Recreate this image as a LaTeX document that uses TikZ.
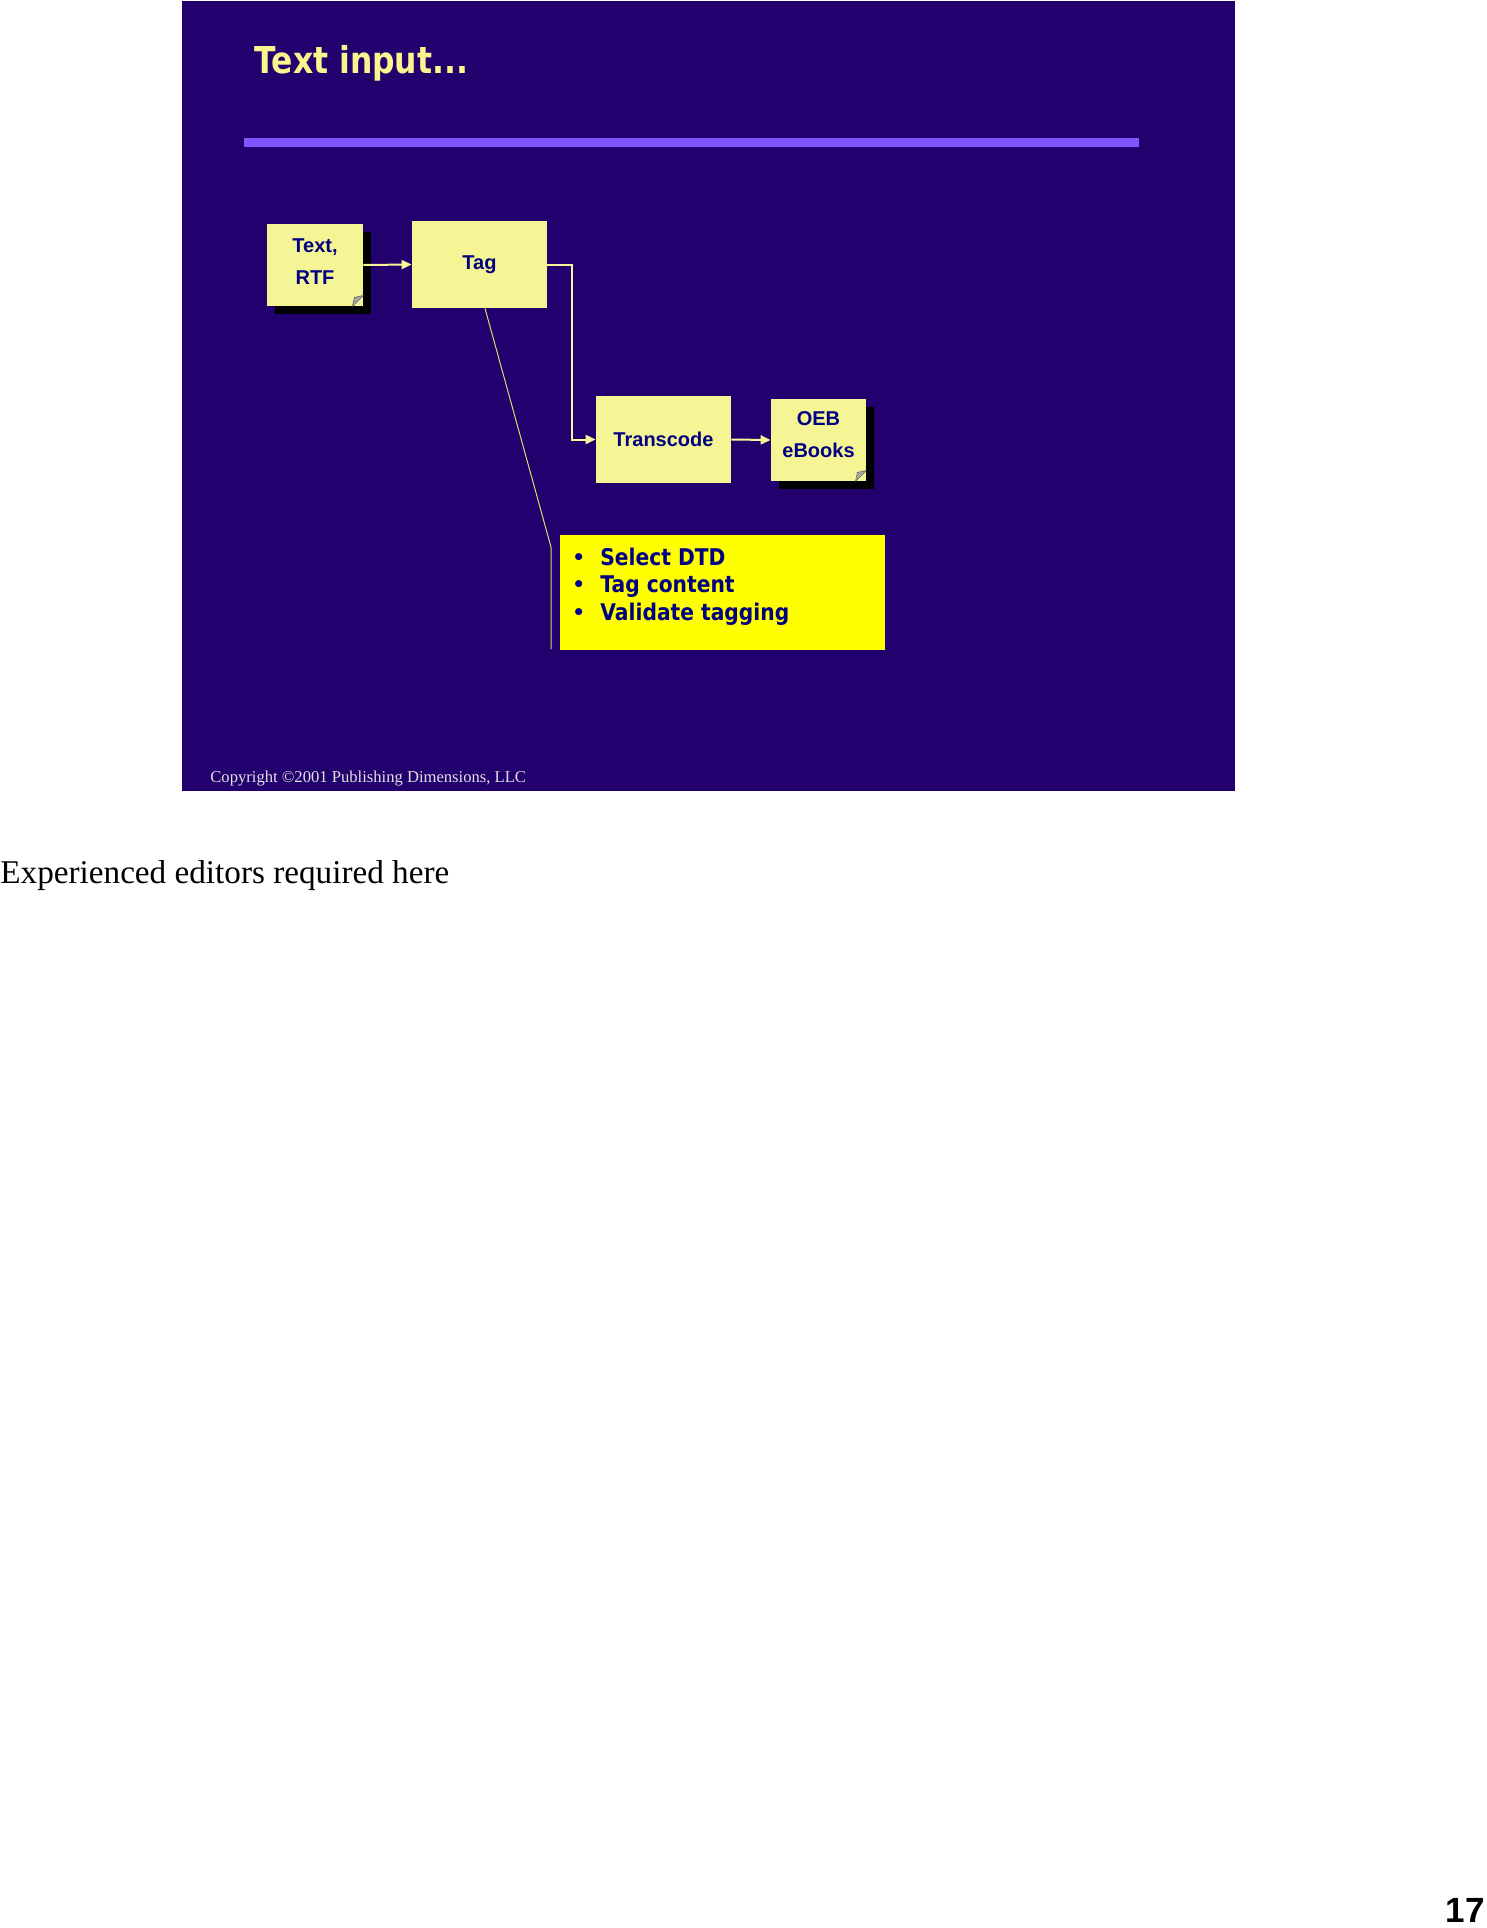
\documentclass[tikz,border=0pt]{standalone}
\usepackage{fontspec}
\usepackage{graphicx}
\usetikzlibrary{arrows.meta,shadows,calc}
\newfontfamily\tahf{DejaVu Sans}
\newfontfamily\arif{Liberation Sans}
\newfontfamily\tnrf{Liberation Serif}
\definecolor{slidebg}{RGB}{34,0,110}
\definecolor{barc}{RGB}{128,85,255}
\definecolor{boxc}{RGB}{245,245,150}
\definecolor{titlec}{RGB}{250,245,140}
\definecolor{navyc}{RGB}{0,0,128}
\definecolor{brightyel}{RGB}{255,255,0}
\definecolor{arrc}{RGB}{250,245,150}
\definecolor{calloutc}{RGB}{230,215,100}
\definecolor{copyc}{RGB}{225,225,225}
\tikzset{
  flowbox/.style={rectangle, fill=boxc, inner sep=0pt, align=center,
    text=navyc, font=\arif\bfseries\fontsize{10}{16}\selectfont},
  shadowbox/.style={flowbox, general shadow={fill=black, shadow xshift=3.75pt, shadow yshift=-3.75pt}},
  arr/.style={draw=arrc, line width=1pt, -{Triangle[length=5pt,width=4.5pt]}},
  callout/.style={draw=calloutc, line width=0.5pt},
  curl/.style={fill=gray!70, draw=black!70, line width=0.2pt}
}
\begin{document}
\begin{tikzpicture}[x=0.5pt,y=-0.5pt]
\useasboundingbox[fill=white] (0,0) rectangle (1487,1928);
% slide background
\fill[slidebg] (182,1) rectangle (1235,791);
% title and bar
\node[anchor=base west, inner sep=0pt, text=titlec, font=\tahf\bfseries\fontsize{18.5}{22}\selectfont] (title) at (254,73) {\scalebox{0.85}[1]{Text input...}};
\fill[barc] (244,138) rectangle (1139,147);
% boxes
\node[shadowbox, minimum width=48pt, minimum height=41pt] (txt) at (315,265) {\raisebox{-0.8pt}[0pt][0pt]{\begin{tabular}{@{}c@{}}Text,\\RTF\end{tabular}}};
\node[flowbox, minimum width=67.5pt, minimum height=43.5pt] (tag) at (479.5,264.5) {Tag};
\node[flowbox, minimum width=67.5pt, minimum height=43.5pt] (trans) at (663.5,439.5) {Transcode};
\node[shadowbox, minimum width=47.5pt, minimum height=41pt] (oeb) at (818.5,440) {\raisebox{0pt}[0pt][0pt]{\begin{tabular}{@{}c@{}}OEB\\eBooks\end{tabular}}};
% page curls
\fill[curl] ([shift={(-11,0)}]txt.south east) -- ([shift={(0,-11)}]txt.south east) -- ([shift={(-9,-9)}]txt.south east) -- cycle;
\fill[curl] ([shift={(-11,0)}]oeb.south east) -- ([shift={(0,-11)}]oeb.south east) -- ([shift={(-9,-9)}]oeb.south east) -- cycle;
% bullet box
\node[rectangle, fill=brightyel, minimum width=162.5pt, minimum height=57.5pt, inner sep=0pt] (bul) at (722.5,592.5) {};
\node[anchor=base west, inner sep=0pt, align=left, text=navyc, font=\tahf\bfseries\fontsize{11.5}{13.75}\selectfont] (bultxt) at (572,620)
{\makebox[14pt][l]{\fontsize{10}{10}\selectfont\raisebox{0.5pt}{•}}\scalebox{0.88}[1]{Select DTD}\\
 \makebox[14pt][l]{\fontsize{10}{10}\selectfont\raisebox{0.5pt}{•}}\scalebox{0.88}[1]{Tag content}\\
 \makebox[14pt][l]{\fontsize{10}{10}\selectfont\raisebox{0.5pt}{•}}\scalebox{0.88}[1]{Validate tagging}};
% connectors
\draw[arr] (txt.east) -- (tag.west);
\draw[arr] (tag.east) -- ++(25,0) |- (trans.west);
\draw[arr] (trans.east) -- (oeb.west);
\coordinate (cbend) at (551,547);
\coordinate (cend) at (551,649);
\draw[callout] ([xshift=2.75pt]tag.south) -- (cbend) -- (cend);
% copyright
\node[anchor=base west, inner sep=0pt, text=copyc, font=\tnrf\fontsize{8.3}{10}\selectfont] (copy) at (210,782) {Copyright ©2001 Publishing Dimensions, LLC};
% notes
\node[anchor=base west, inner sep=0pt, font=\tnrf\fontsize{16.6}{20}\selectfont] (note) at (0,883) {Experienced editors required here};
\node[anchor=base east, inner sep=0pt, font=\arif\bfseries\fontsize{17.5}{20}\selectfont] (pnum) at (1485,1922) {17};
\end{tikzpicture}
\end{document}
